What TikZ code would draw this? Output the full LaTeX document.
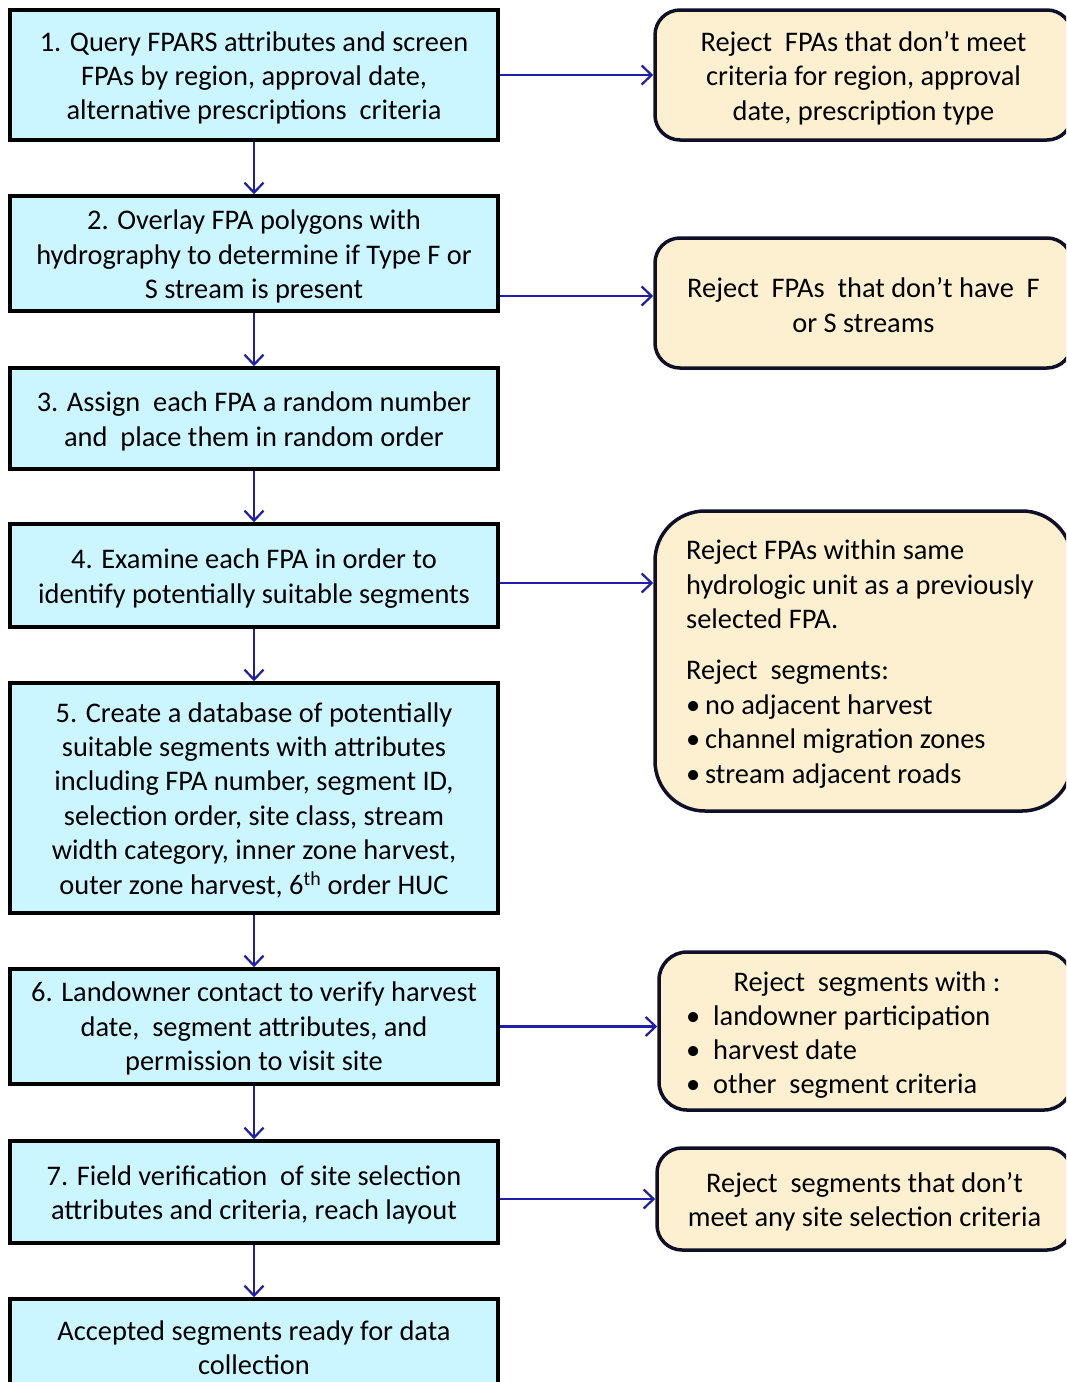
\documentclass[tikz,border=0pt]{standalone}
\usepackage{fontspec}
\setmainfont{Carlito}
\usetikzlibrary{arrows.meta}
\definecolor{lboxc}{RGB}{204,246,255}
\definecolor{rboxc}{RGB}{253,240,208}
\definecolor{arrc}{RGB}{30,30,170}
\definecolor{rbordc}{RGB}{15,15,40}
\newcommand{\fsz}{\fontsize{28.4}{34.4}\selectfont}
\begin{document}
\begin{tikzpicture}[x=1pt,y=-1pt,
  lbox/.style={draw=black, line width=3.5pt, fill=lboxc, minimum width=488pt, inner sep=0pt},
  rbox/.style={draw=rbordc, line width=3.5pt, fill=rboxc, rounded corners=25pt, inner sep=0pt},
  txt/.style={inner sep=0pt, font=\fsz},
  ctxt/.style={inner sep=0pt, font=\fsz, align=center},
  flow/.style={draw=arrc, line width=2.2pt, -{Straight Barb[length=10pt,width=19pt,line width=2.2pt]}}]
\useasboundingbox (0,0) rectangle (1066,1382);
\begin{scope}
\clip (0,0) rectangle (1066,1382);
% left column
\node[lbox, minimum height=130pt] (L1) at (254,75) {};
\node[ctxt] (L1t) at ([yshift=-3pt]L1.center) {1. Query FPARS attributes and screen\\FPAs by region, approval date,\\alternative prescriptions\ \ criteria};
\node[lbox, minimum height=115pt] (L2) at (254,253.5) {};
\node[ctxt] (L2t) at ([yshift=-3pt]L2.center) {2. Overlay FPA polygons with\\hydrography to determine if Type F or\\S stream is present};
\node[lbox, minimum height=101pt] (L3) at (254,418.5) {};
\node[ctxt] (L3t) at ([yshift=-3pt]L3.center) {3. Assign\ \ each FPA a random number\\and\ \ place them in random order};
\node[lbox, minimum height=103pt] (L4) at (254,575.5) {};
\node[ctxt] (L4t) at ([yshift=-3pt]L4.center) {4. Examine each FPA in order to\\identify potentially suitable segments};
\node[lbox, minimum height=230pt] (L5) at (254,798) {};
\node[ctxt] (L5t) at ([yshift=-2pt]L5.center) {5. Create a database of potentially\\suitable segments with attributes\\including FPA number, segment ID,\\selection order, site class, stream\\width category, inner zone harvest,\\outer zone harvest, 6\textsuperscript{th} order HUC};
\node[lbox, minimum height=115pt] (L6) at (254,1026.5) {};
\node[ctxt] (L6t) at ([yshift=-2pt]L6.center) {6. Landowner contact to verify harvest\\date,\ \ segment attributes, and\\permission to visit site};
\node[lbox, minimum height=102pt] (L7) at (254,1192) {};
\node[ctxt] (L7t) at ([yshift=-3pt]L7.center) {7. Field verification\ \ of site selection\\attributes and criteria, reach layout};
\node[lbox, minimum height=95pt] (L8) at (254,1346.5) {};
\node[ctxt] (L8t) at ([yshift=-1pt]L8.center) {Accepted segments ready for data\\collection};
% right column
\node[rbox, minimum width=417pt, minimum height=130pt] (R1) at (863.5,75) {};
\node[ctxt] (R1t) at ([yshift=-3pt]R1.center) {Reject\ \ FPAs that don’t meet\\criteria for region, approval\\date, prescription type};
\node[rbox, minimum width=417pt, minimum height=130pt] (R2) at (863.5,303) {};
\node[ctxt] (R2t) at ([yshift=-2pt]R2.center) {Reject\ \ FPAs\ \ that don’t have\ \ F\\or S streams};
\node[rbox, minimum width=417pt, minimum height=300pt, rounded corners=50pt] (R3) at (863.5,661) {};
\node[txt, anchor=west, align=left] (R3t) at (686,664) {Reject FPAs within same\\hydrologic unit as a previously\\selected FPA.\\[17pt]Reject\ \ segments:\\•\,no adjacent harvest\\•\,channel migration zones\\•\,stream adjacent roads};
\node[rbox, minimum width=413pt, minimum height=158pt, rounded corners=28pt] (R4) at (865.5,1031) {};
\node[txt] (R4h) at (867,984) {Reject\ \ segments with :};
\node[txt, anchor=west, align=left] (R4t) at (686,1052) {•\ \ landowner participation\\•\ \ harvest date\\•\ \ other\ \ segment criteria};
\node[rbox, minimum width=415pt, minimum height=102pt] (R5) at (864.5,1199) {};
\node[ctxt] (R5t) at ([yshift=-3pt]R5.center) {Reject\ \ segments that don’t\\meet any site selection criteria};
% vertical arrows
\draw[flow] (L1.south) -- (L2.north);
\draw[flow] (L2.south) -- (L3.north);
\draw[flow] (L3.south) -- (L4.north);
\draw[flow] (L4.south) -- (L5.north);
\draw[flow] (L5.south) -- (L6.north);
\draw[flow] (L6.south) -- (L7.north);
\draw[flow] (L7.south) -- (L8.north);
% horizontal arrows
\draw[flow] (L1.east) -- (L1.east -| R1.west);
\coordinate (a2) at ([yshift=-42.5pt]L2.east);
\draw[flow] (a2) -- (a2 -| R2.west);
\coordinate (a4) at ([yshift=-7.5pt]L4.east);
\draw[flow] (a4) -- (a4 -| R3.west);
\draw[flow] (L6.east) -- (L6.east -| R4.west);
\coordinate (a7) at ([yshift=-7pt]L7.east);
\draw[flow] (a7) -- (a7 -| R5.west);
\end{scope}
\end{tikzpicture}
\end{document}
